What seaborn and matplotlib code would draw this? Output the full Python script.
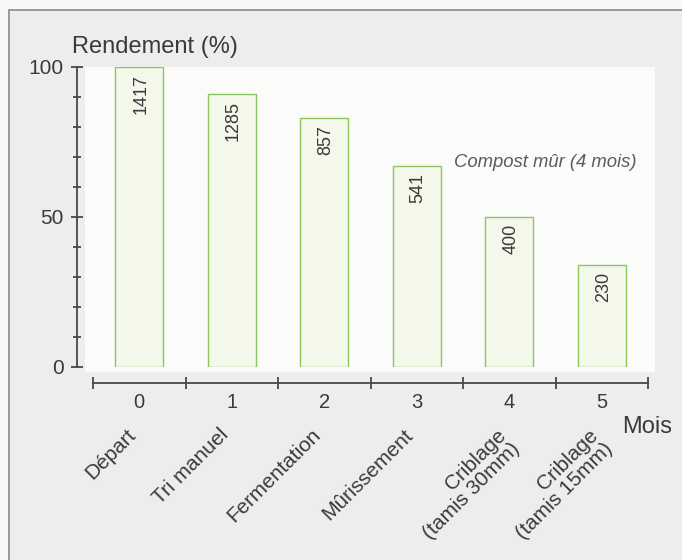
import matplotlib
matplotlib.use("Agg")
import matplotlib.pyplot as plt
import matplotlib.transforms as mtransforms
from matplotlib.patches import Rectangle
from matplotlib.ticker import FixedLocator, FixedFormatter
import seaborn as sns
import pandas as pd

# --- data -------------------------------------------------------------
mois = ["0", "1", "2", "3", "4", "5"]
etapes = ["Départ", "Tri manuel", "Fermentation", "Mûrissement",
          "Criblage\n(tamis 30mm)", "Criblage\n(tamis 15mm)"]
rendement = [100, 91, 83, 67, 50, 34]          # yield, %
masse = [1417, 1285, 857, 541, 400, 230]       # mass at each stage

# --- style ------------------------------------------------------------
sns.set_style("white")
plt.rcParams["font.family"] = ["Liberation Sans", "DejaVu Sans"]

TXT = "#3a3a3a"
AXC = "#474747"
BAR_FACE = "#f3f8ea"
BAR_EDGE = "#8cc65c"

W, H = 682, 560
fig = plt.figure(figsize=(W / 100, H / 100), dpi=100)
fig.patch.set_facecolor("#f8f8f6")

# framed grey panel with a lighter plotting zone (behind the axes)
fig.patches.append(Rectangle((9 / W, -0.2), 1.2, 1.2 - 10 / H,
                             transform=fig.transFigure, facecolor="#ededeb",
                             edgecolor="#8a8a8a", linewidth=1.2, zorder=-2))
fig.patches.append(Rectangle((85 / W, 1 - 372 / H), 570 / W, 305 / H,
                             transform=fig.transFigure, facecolor="#fbfbfa",
                             edgecolor="none", zorder=-1))

ax = fig.add_axes([93 / W, 1 - 367 / H, 555 / W, 300 / H])
ax.patch.set_alpha(0)

df = pd.DataFrame({"mois": mois, "rendement": rendement})
sns.barplot(data=df, x="mois", y="rendement", order=mois, width=0.52,
            color=BAR_FACE, edgecolor=BAR_EDGE, linewidth=1.0,
            saturation=1, ax=ax)
for p in ax.patches:
    p.set_facecolor(BAR_FACE)
    p.set_edgecolor(BAR_EDGE)

ax.set_xlim(-0.5, 5.5)
ax.set_ylim(0, 100)
ax.set_xlabel("")
ax.set_ylabel("")

# spines: detached y axis on the left, x axis below
for s in ("top", "right"):
    ax.spines[s].set_visible(False)
ax.spines["left"].set_position(("outward", 11.2))
ax.spines["bottom"].set_position(("outward", 11.5))
for s in ("left", "bottom"):
    ax.spines[s].set_color(AXC)
    ax.spines[s].set_linewidth(1.3)

# y ticks
ax.yaxis.set_major_locator(FixedLocator([0, 50, 100]))
ax.yaxis.set_major_formatter(FixedFormatter(["0", "50", "100"]))
ax.yaxis.set_minor_locator(FixedLocator(list(range(10, 100, 10))))
ax.tick_params(axis="y", which="both", left=True)
ax.tick_params(axis="y", which="major", direction="inout", length=8,
               width=1.3, color=AXC, labelsize=15, labelcolor=TXT, pad=6)
ax.tick_params(axis="y", which="minor", direction="inout", length=6,
               width=1.3, color=AXC)

# x ticks: boundaries as marks, month numbers at category centres
ax.xaxis.set_major_locator(FixedLocator([i - 0.5 for i in range(len(mois) + 1)]))
ax.xaxis.set_major_formatter(FixedFormatter([""] * (len(mois) + 1)))
ax.xaxis.set_minor_locator(FixedLocator(list(range(len(mois)))))
ax.xaxis.set_minor_formatter(FixedFormatter(mois))
ax.tick_params(axis="x", which="both", bottom=True)
ax.tick_params(axis="x", which="major", direction="inout", length=8,
               width=1.3, color=AXC)
ax.tick_params(axis="x", which="minor", length=0, labelsize=14.5,
               labelcolor=TXT, pad=7)

# mass values inside the bars
for i, (v, m) in enumerate(zip(rendement, masse)):
    ax.annotate(str(m), xy=(i, v), xytext=(1, -5), textcoords="offset points",
                rotation=90, ha="center", va="top", fontsize=13, color=TXT)

# stage names under the month numbers
trans = mtransforms.blended_transform_factory(ax.transData, ax.transAxes)
for i, name in enumerate(etapes):
    ax.text(i - 0.14, -0.195, name, transform=trans, rotation=45,
            rotation_mode="anchor", ha="right", va="top",
            multialignment="right", linespacing=1.05,
            fontsize=15, color=TXT)

ax.text(5.38, 68.3, "Compost mûr (4 mois)", ha="right", va="center",
        fontsize=13.3, style="italic", color="#5c5c5c")

fig.text(72 / W, 1 - 53 / H, "Rendement (%)", ha="left", va="baseline",
         fontsize=17, color=TXT)
fig.text(647 / W, 1 - 427 / H, "Mois", ha="center", va="center",
         fontsize=17, color=TXT)

fig.savefig("out.png", dpi=100)
